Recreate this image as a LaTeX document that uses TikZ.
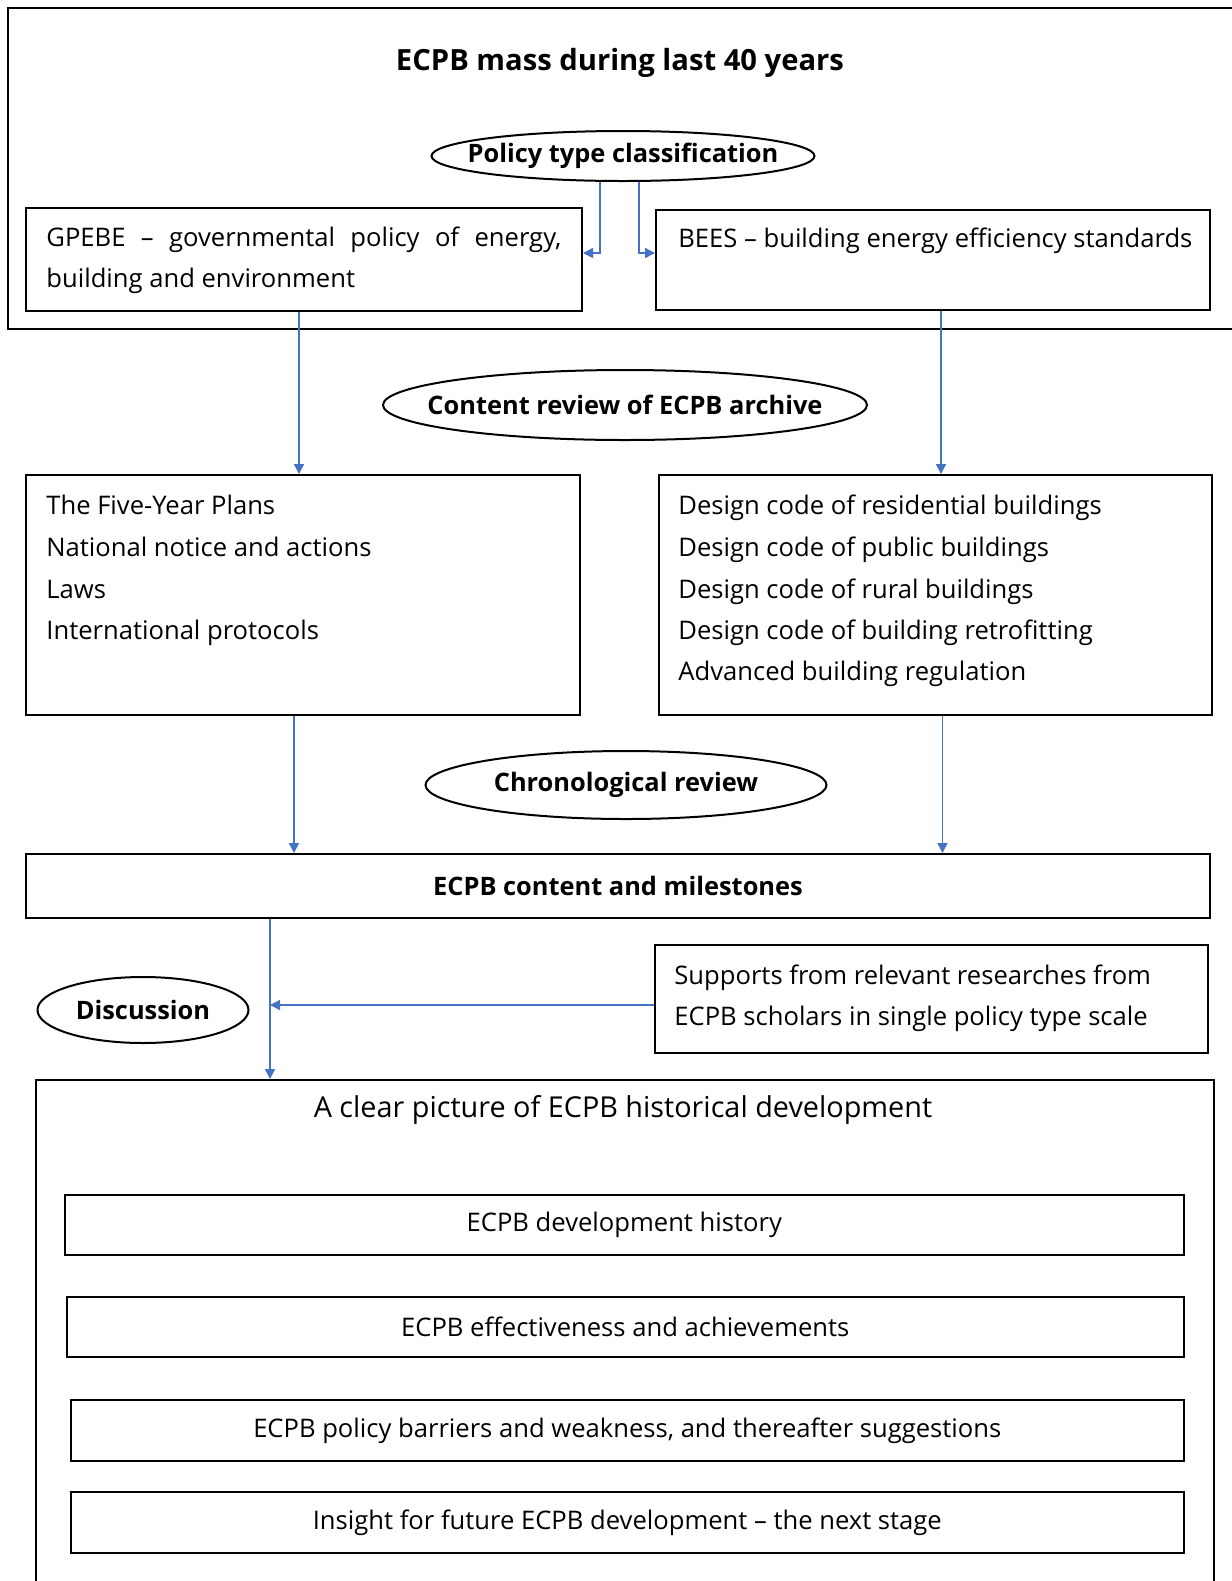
\documentclass[tikz,border=0pt]{standalone}
\usepackage{fontspec}
\setmainfont{Open Sans}
\usetikzlibrary{arrows.meta}
\usetikzlibrary{shapes.geometric}
\definecolor{flowblue}{RGB}{68,114,196}

\tikzset{
	box/.style={draw, rectangle, line width=1pt, inner sep=0pt},
	oval/.style={draw, ellipse, line width=1pt, inner sep=0pt, label={[font=\fontsize{12.7}{15}\selectfont\bfseries]center:#1}},
	txt/.style={anchor=west, inner sep=0pt, font=\fontsize{12.8}{15}\selectfont, text height=1.6ex, text depth=0.4ex},
	flow/.style={flowblue, line width=0.75pt, -{Triangle[length=5pt,width=5pt]}},
}

\begin{document}
\begin{tikzpicture}[x=0.5pt,y=-0.5pt]
			\useasboundingbox (0,0) rectangle (1232,1581);
			\clip (0,0) rectangle (1232,1581);
			% top frame
			\node[box, minimum width=616pt, minimum height=160.5pt] (mass) at (624,168.5) {};
			\node[font=\fontsize{14.6}{17}\selectfont\bfseries] (masstitle) at (620,63) {ECPB mass during last 40 years};
			\node[oval={Policy type classification}, minimum width=191.5pt, minimum height=25pt] (pol) at (623,156) {};
			\node[box, minimum width=278pt, minimum height=51.5pt] (gpebe) at (304,259.5) {};
			\node[txt, text width=257.5pt, align=justify, text height=, text depth=, font=\fontsize{12.8}{20.5}\selectfont] (gpebetext) at (46,260) {GPEBE -- governmental policy of energy,\linebreak building and environment};
			\node[box, minimum width=277pt, minimum height=50pt] (bees) at (933,260) {};
			\node[txt] (beestext) at (678,241) {BEES -- building energy efficiency standards};
			\draw[flow] ([xshift=-11.5pt]pol.south) |- ([yshift=3.25pt]gpebe.east);
			\draw[flow] ([xshift=8pt]pol.south) |- ([yshift=3.5pt]bees.west);
			% content review
			\node[oval={Content review of ECPB archive}, minimum width=242pt, minimum height=35pt] (review) at (625,405) {};
			\node[box, minimum width=277pt, minimum height=120pt] (plans) at (303,595) {};
			\node[txt] (plan1) at (46,508) {The Five-Year Plans};
			\node[txt] (plan2) at (46,550) {National notice and actions};
			\node[txt] (plan3) at (46,592) {Laws};
			\node[txt] (plan4) at (46,633) {International protocols};
			\node[box, minimum width=276.5pt, minimum height=120pt] (codes) at (935.5,595) {};
			\node[txt] (code1) at (678,508) {Design code of residential buildings};
			\node[txt] (code2) at (678,550) {Design code of public buildings};
			\node[txt] (code3) at (678,592) {Design code of rural buildings};
			\node[txt] (code4) at (678,633) {Design code of building retrofitting};
			\node[txt] (code5) at (678,674) {Advanced building regulation};
			\draw[flow] ([xshift=-2.5pt]gpebe.south) -- ([xshift=-2.5pt]gpebe.south |- plans.north);
			\draw[flow] ([xshift=4pt]bees.south) -- ([xshift=4pt]bees.south |- codes.north);
			% chronological review
			\node[oval={Chronological review}, minimum width=200.5pt, minimum height=34pt] (chrono) at (626,785) {};
			\node[box, minimum width=592pt, minimum height=32pt, font=\fontsize{12.7}{15}\selectfont\bfseries] (mile) at (618,886) {ECPB content and milestones};
			\draw[flow] ([xshift=-4.5pt]plans.south) -- ([xshift=-4.5pt]plans.south |- mile.north);
			\draw[flow] ([xshift=3.5pt]codes.south) -- ([xshift=3.5pt]codes.south |- mile.north);
			% discussion
			\node[box, minimum width=276.5pt, minimum height=54pt] (sup) at (931.5,999) {};
			\node[txt] (sup1) at (674,978) {Supports from relevant researches from};
			\node[txt] (sup2) at (674,1019) {ECPB scholars in single policy type scale};
			\node[oval={Discussion}, minimum width=105.5pt, minimum height=33pt] (disc) at (143,1010) {};
			\coordinate (jn) at (270,1005);
			% result
			\node[box, minimum width=589pt, minimum height=280pt] (pic) at (625,1360) {};
			\node[font=\fontsize{14.4}{17}\selectfont] (pictitle) at (623,1110) {A clear picture of ECPB historical development};
			\draw[flow] (mile.south -| jn) -- (pic.north -| jn);
			\draw[flow] ([yshift=-3pt]sup.west) -- (jn);
			\node[box, minimum width=559.75pt, minimum height=30pt, font=\fontsize{12.8}{15}\selectfont] (hist) at (624.3,1225) {ECPB development history};
			\node[box, minimum width=558.75pt, minimum height=30pt, font=\fontsize{12.8}{15}\selectfont] (eff) at (625.3,1327) {ECPB effectiveness and achievements};
			\node[box, minimum width=556.7pt, minimum height=30.5pt, font=\fontsize{12.8}{15}\selectfont] (barr) at (627.3,1430.5) {ECPB policy barriers and weakness, and thereafter suggestions};
			\node[box, minimum width=556.7pt, minimum height=30.5pt, font=\fontsize{12.8}{15}\selectfont] (ins) at (627.3,1522.5) {Insight for future ECPB development -- the next stage};
	\end{tikzpicture}
\end{document}
